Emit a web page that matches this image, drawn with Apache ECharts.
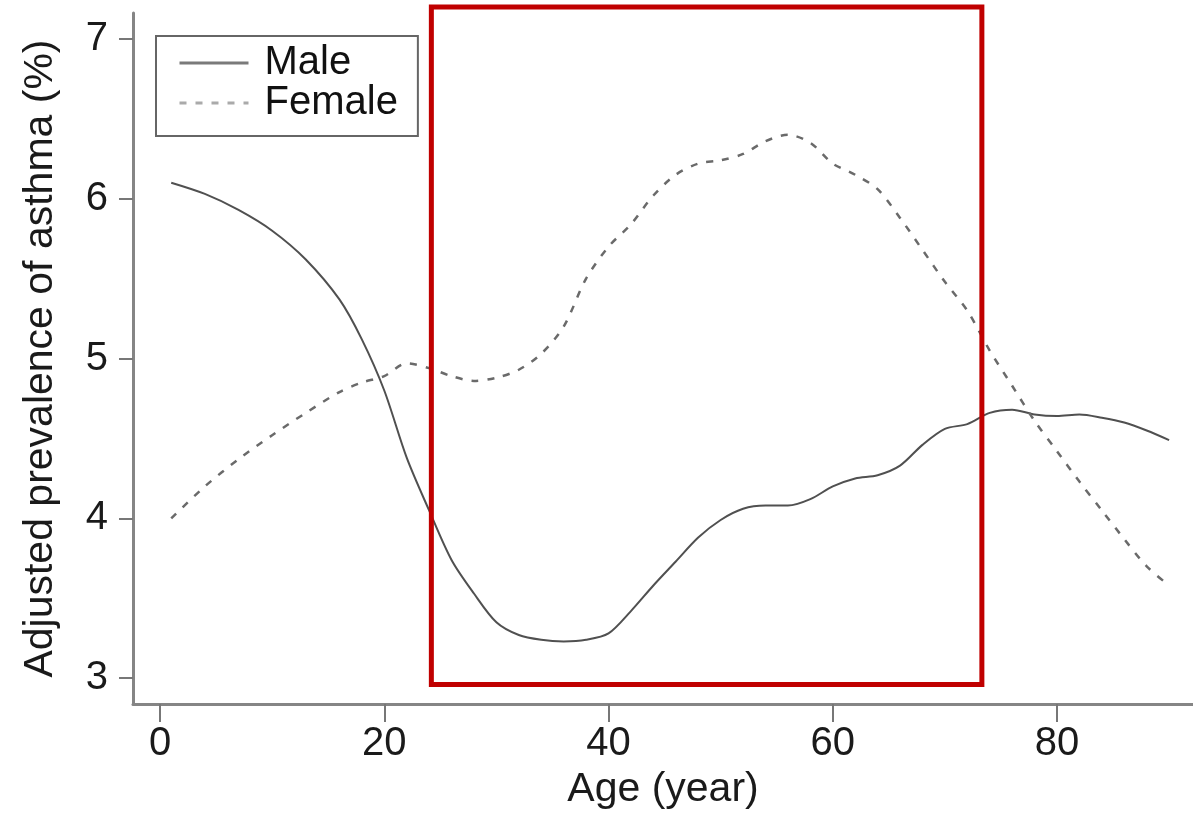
<!DOCTYPE html>
<html><head><meta charset="utf-8">
<script src="https://cdn.jsdelivr.net/npm/echarts@6/dist/echarts.min.js"></script>
<style>html,body{margin:0;padding:0;background:#fff}#c{width:1193px;height:815px}</style>
</head><body><div id="c"></div>
<script>
const ages = [1,4,7,10,13,16,18,20,22,24,26,28,30,32,34,36,38,40,42,44,46,48,50,52,54,56,58,60,62,64,66,68,70,72,74,76,78,80,82,84,86,88,90];
const male = [6.10,6.03,5.93,5.80,5.62,5.37,5.12,4.80,4.38,4.05,3.74,3.53,3.35,3.27,3.24,3.23,3.24,3.28,3.42,3.58,3.73,3.88,3.99,4.06,4.08,4.08,4.12,4.20,4.25,4.27,4.33,4.46,4.56,4.59,4.66,4.68,4.65,4.64,4.65,4.63,4.60,4.55,4.49];
const female = [4.00,4.20,4.37,4.52,4.66,4.79,4.85,4.89,4.97,4.94,4.89,4.86,4.88,4.93,5.03,5.20,5.50,5.70,5.84,6.02,6.15,6.22,6.24,6.28,6.36,6.40,6.35,6.22,6.15,6.06,5.88,5.68,5.48,5.30,5.05,4.83,4.61,4.42,4.23,4.05,3.87,3.70,3.58];
const xTicks = [0,20,40,60,80];
const yTicks = [3,4,5,6,7];
// highlight box: [ageFrom, prevalenceFrom, ageTo, prevalenceTo]
const redBox = [[24.2, 2.96, 73.3, 7.2]];

const chart = echarts.init(document.getElementById('c'), null, {renderer:'canvas'});
const font = 'Liberation Sans, Arial, sans-serif';
const axisCommon = {
  axisLine:{show:true, onZero:false, lineStyle:{color:'#858585', width:3}},
  splitLine:{show:false},
  nameTextStyle:{fontFamily:font, fontSize:41, color:'#1a1a1a'},
};
chart.setOption({
  animation:false,
  backgroundColor:'#fff',
  grid:{left:133, right:0, top:13, bottom:109, containLabel:false},
  xAxis:Object.assign({}, axisCommon, {
    type:'value', min:-2.41, max:92.13,
    name:'Age (year)', nameLocation:'middle', nameGap:62,
    axisTick:{show:true, length:18, lineStyle:{color:'#777', width:2}, customValues:xTicks},
    axisLabel:{fontFamily:font, fontSize:40, color:'#1a1a1a', margin:20, customValues:xTicks}
  }),
  yAxis:Object.assign({}, axisCommon, {
    type:'value', min:2.838, max:7.162,
    name:'Adjusted prevalence of asthma (%)', nameLocation:'middle', nameGap:72,
    axisTick:{show:true, length:14, lineStyle:{color:'#777', width:2}, customValues:yTicks},
    axisLabel:{fontFamily:font, fontSize:40, color:'#1a1a1a', margin:25, customValues:yTicks}
  }),
  legend:{
    left:156, top:36, orient:'vertical',
    padding:[7,20,13,22], itemGap:0, itemWidth:69, itemHeight:14,
    borderColor:'#666', borderWidth:2, backgroundColor:'#fff',
    textStyle:{fontFamily:font, fontSize:40, lineHeight:38, color:'#111', padding:[0,0,0,11]},
    data:[
      {name:'Male', itemStyle:{opacity:0}, lineStyle:{color:'#7a7a7a', width:3}},
      {name:'Female', itemStyle:{opacity:0}, lineStyle:{color:'#aaaaaa', width:3}}
    ]
  },
  series:[
    {name:'Male', type:'line', smooth:0.3, symbol:'none',
     data:ages.map((a,i)=>[a, male[i]]),
     lineStyle:{color:'#505050', width:2}},
    {name:'Female', type:'line', smooth:0.3, symbol:'none',
     data:ages.map((a,i)=>[a, female[i]]),
     lineStyle:{color:'#6a6a6a', width:2.5, type:[7,9]}},
    {type:'custom', silent:true, z:10,
     encode:{x:[0,2], y:[1,3]},
     data:redBox,
     renderItem:function(params, api){
       const p0 = api.coord([api.value(0), api.value(3)]);
       const p1 = api.coord([api.value(2), api.value(1)]);
       return {type:'rect', shape:{x:p0[0], y:p0[1], width:p1[0]-p0[0], height:p1[1]-p0[1]},
               style:{fill:null, stroke:'#c00000', lineWidth:5}};
     }}
  ]
});
</script></body></html>
